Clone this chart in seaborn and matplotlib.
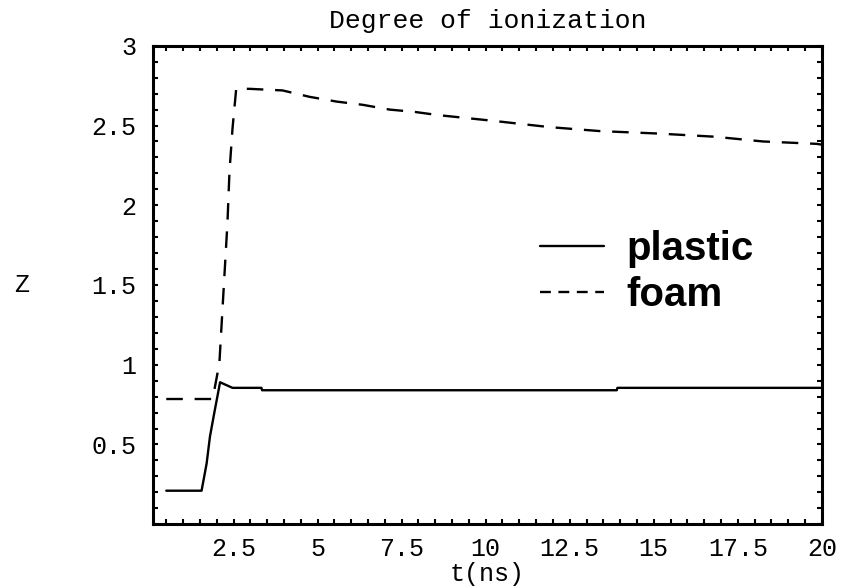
import matplotlib
matplotlib.use("Agg")
import matplotlib.pyplot as plt
from matplotlib.ticker import MultipleLocator, FixedLocator
from matplotlib.lines import Line2D
import seaborn as sns
import pandas as pd

# Degree of ionization Z(t) for the two materials
plastic_t = [0.5, 1.55, 1.7, 1.8, 1.93, 2.02, 2.1, 2.47, 3.33, 3.35, 13.9, 13.92, 20.0]
plastic_z = [0.21, 0.21, 0.38, 0.55, 0.70, 0.80, 0.89, 0.855, 0.855, 0.84, 0.84, 0.855, 0.855]

foam_t = [0.5, 1.88, 2.08, 2.32, 2.38, 2.47, 2.58, 2.98, 3.96, 4.76, 5.57, 6.34, 7.14,
          7.9, 8.6, 10.2, 11.9, 13.4, 15.1, 16.8, 18.25, 19.85, 20.0]
foam_z = [0.785, 0.785, 1.01, 1.89, 2.21, 2.48, 2.73, 2.73, 2.72, 2.68, 2.65, 2.63, 2.60,
          2.585, 2.565, 2.53, 2.49, 2.465, 2.45, 2.43, 2.40, 2.385, 2.38]

x_ticks = [2.5, 5, 7.5, 10, 12.5, 15, 17.5, 20]
x_tick_labels = ["2.5", "5", "7.5", "10", "12.5", "15", "17.5", "20"]
y_ticks = [0.5, 1, 1.5, 2, 2.5, 3]
y_tick_labels = ["0.5", "1", "1.5", "2", "2.5", "3"]

df = pd.concat([
    pd.DataFrame({"t": plastic_t, "Z": plastic_z, "material": "plastic"}),
    pd.DataFrame({"t": foam_t, "Z": foam_z, "material": "foam"}),
], ignore_index=True)

sns.set_style("ticks")
mono = ["Liberation Mono", "DejaVu Sans Mono"]

fig = plt.figure(figsize=(8.49, 5.87), dpi=100)
ax = fig.add_axes([0.180, 0.107, 0.788, 0.815])

sns.lineplot(data=df, x="t", y="Z", style="material", color="black",
             dashes={"plastic": "", "foam": (7, 5)}, linewidth=1.7,
             sort=False, estimator=None, legend=False, ax=ax)

ax.set_xlim(0.1, 20)
ax.set_ylim(0, 3)
ax.xaxis.set_major_locator(FixedLocator(x_ticks))
ax.set_xticklabels(x_tick_labels)
ax.yaxis.set_major_locator(FixedLocator(y_ticks))
ax.set_yticklabels(y_tick_labels)
ax.xaxis.set_minor_locator(MultipleLocator(0.5))
ax.yaxis.set_minor_locator(MultipleLocator(0.1))
ax.tick_params(which="both", direction="in", top=True, right=True,
               length=3.5, width=1.5, color="black", labelcolor="black")
ax.tick_params(axis="x", which="major", pad=9)
ax.tick_params(axis="y", which="major", pad=12)
for lbl in ax.get_xticklabels() + ax.get_yticklabels():
    lbl.set_family(mono)
    lbl.set_fontsize(18)

for sp in ax.spines.values():
    sp.set_linewidth(2.2)
    sp.set_color("black")

ax.set_title("Degree of ionization", family=mono, fontsize=19, pad=13, color="black")
ax.set_xlabel("t(ns)", family=mono, fontsize=18, labelpad=1, color="black")
ax.set_ylabel("Z", family=mono, fontsize=18, rotation=0, labelpad=50,
              va="center", color="black")

handles = [Line2D([], [], color="black", linewidth=1.7),
           Line2D([], [], color="black", linewidth=1.7, dashes=(4.6, 3.2))]
ax.legend(handles, ["plastic", "foam"], loc="upper left",
          bbox_to_anchor=(0.524, 0.69), frameon=False, handlelength=1.6,
          handletextpad=0.55, labelspacing=0.2, labelcolor="black",
          prop={"family": "Liberation Sans", "weight": "bold", "size": 29})

fig.savefig("out.png", dpi=100)
